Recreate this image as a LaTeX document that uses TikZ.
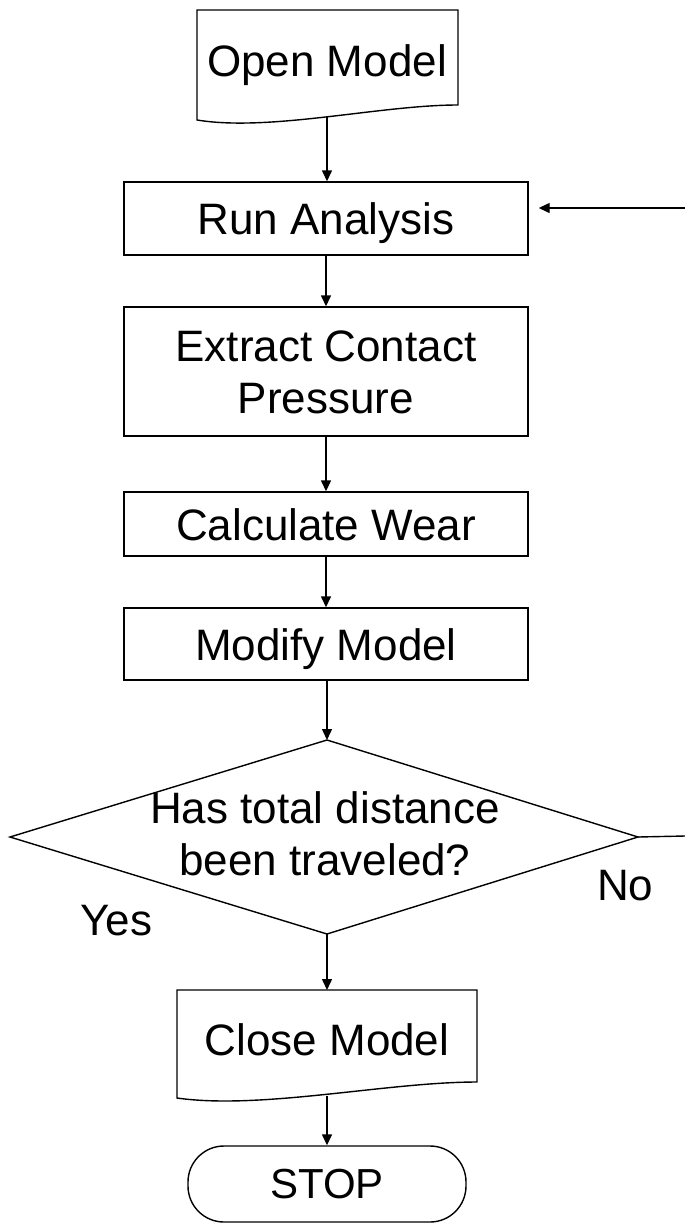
\documentclass[tikz,border=0pt]{standalone}
\usepackage{fontspec}
\setmainfont{Liberation Sans}
\usetikzlibrary{arrows.meta}
\begin{document}
\begin{tikzpicture}[x=1pt,y=-1pt,
  every node/.style={font=\fontsize{44}{52}\selectfont, inner sep=0pt},
  line/.style={line width=1.4pt, line join=miter},
  box/.style={line, draw, minimum width=404pt, text height=32pt, text depth=0pt},
  flow/.style={line width=1.4pt, -{Triangle[length=11pt,width=10pt]}}]
\useasboundingbox[fill=white] (0,0) rectangle (685,1223);

% Open Model (document shape)
\node[anchor=base] (open) at (327,77) {Open Model};
\draw[line] (197,10) -- (458,10) -- (458,105) .. controls (380,105) and (270,132) .. (197,120) -- cycle;
\coordinate (openb) at (327,117);

% process boxes
\node[box, minimum height=73pt] (run) at (326,218.5) {Run Analysis};
\node[box, minimum height=129pt, align=center, text height=84pt, text depth=0pt] (ext) at (326,371.5) {Extract Contact\\Pressure};
\node[box, minimum height=64pt] (calc) at (326,524) {Calculate Wear};
\node[box, minimum height=72pt] (mod) at (326,644) {Modify Model};

% decision
\coordinate (dT) at (327,740);
\coordinate (dR) at (638,837);
\coordinate (dB) at (327,934);
\coordinate (dL) at (10,837);
\draw[line] (dT) -- (dR) -- (dB) -- (dL) -- cycle;
\node[align=center, text height=90pt, text depth=0pt] (dec) at (325,830) {\fontsize{44}{58}\selectfont Has total distance\\been traveled?};

% Close Model (document shape)
\node[anchor=base] (close) at (327,1055) {Close Model};
\draw[line] (177,990) -- (477,990) -- (477,1082) .. controls (387,1082) and (261,1110) .. (177,1098) -- cycle;
\coordinate (closet) at (327,990);
\coordinate (closeb) at (327,1096);

% terminator
\node[line, draw, rounded corners=36pt, minimum width=278pt, minimum height=76pt,
      text height=29pt, text depth=0pt, font=\fontsize{42}{50}\selectfont] (stop) at (327,1184) {STOP};

% labels
\node[anchor=base west] (no) at (597,900) {No};
\node[anchor=base west] (yes) at (80,935) {Yes};

% connectors
\draw[flow] (openb) -- (openb |- run.north);
\draw[flow] (run.south -| ext.north) -- (ext.north);
\draw[flow] (ext.south) -- (calc.north);
\draw[flow] (calc.south) -- (mod.north);
\draw[flow] (mod.south -| dT) -- (dT);
\draw[flow] (dB) -- (closet);
\draw[flow] (closeb) -- (stop.north -| closeb);
\coordinate (fbR) at (685,836);
\coordinate (fbT) at (685,208);
\draw[line] (dR) -- (fbR);
\draw[flow] (fbT) -- ([xshift=10pt]run.east |- fbT);
\end{tikzpicture}
\end{document}
